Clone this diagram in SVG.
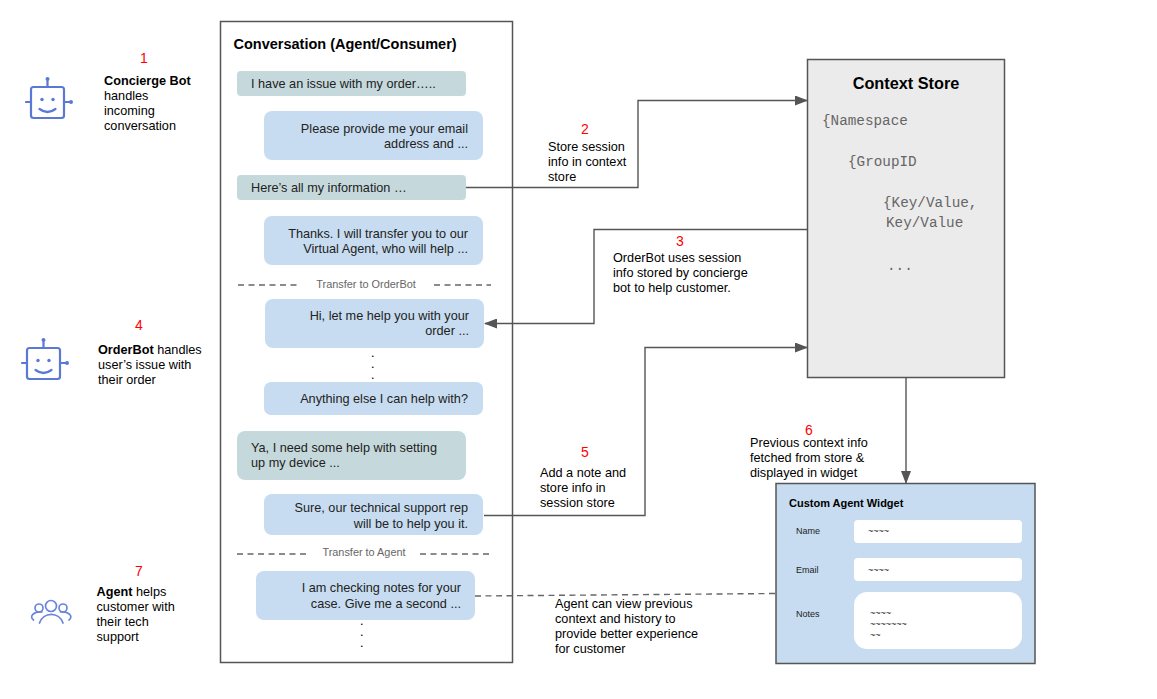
<svg xmlns="http://www.w3.org/2000/svg" width="1157" height="699" viewBox="0 0 1157 699">
<style>
text{font-family:"Liberation Sans",Arial,sans-serif;font-size:12.7px;fill:#000}
.m{font-size:12.7px;fill:#222}
.e{text-anchor:end}
.r{font-size:14px;fill:#f00;text-anchor:middle}
.b{font-weight:bold}
.bx{fill:#fff;stroke:#555;stroke-width:1.5}
.g{fill:#c5d9dc}
.u{fill:#c7dcf0}
.mono{font-family:"Liberation Mono",monospace;font-size:14.3px;fill:#666}
.tr{font-size:10.9px;fill:#666;text-anchor:middle}
.l{font-size:9px;fill:#222}
.t{font-size:9px;fill:#222}
.dot{font-size:9px;font-weight:bold}
.c{fill:none;stroke:#555;stroke-width:1.4}
.d{fill:none;stroke:#666;stroke-width:1.4;stroke-dasharray:6 4.5}
.i{fill:none;stroke:#5a78d6;stroke-width:2.2;stroke-linecap:round}
.f{fill:#5a78d6}
.i2{fill:none;stroke:#6a86da;stroke-width:1.7;stroke-linecap:round}
</style>
<defs>
<marker id="a" markerUnits="userSpaceOnUse" markerWidth="13" markerHeight="10" refX="12" refY="5" orient="auto"><path d="M0 0L13 5L0 10Z" fill="#555"/></marker>
<g id="bot">
<rect x="-16" y="-15" width="33" height="31" rx="2.5" class="i"/>
<path class="i" d="M0.500 -15V-21M-16 0H-21M17 0H23M-7.500 7Q0.500 13 8.500 7"/>
<circle cx="0.500" cy="-23" r="2" class="f"/><circle cx="24" cy="0" r="2" class="f"/>
<circle cx="-5" cy="-2.500" r="1.700" class="f"/><circle cx="6" cy="-2.500" r="1.700" class="f"/>
</g>
</defs>

<g id="conversation">
<rect class="bx" x="220.500" y="21.500" width="292" height="641"/>
<text x="233.500" y="49" class="b" style="font-size:14.5px">Conversation (Agent/Consumer)</text>
</g>
<g id="msg1"><rect class="g" x="237" y="71" width="229" height="25" rx="4"/><text class="m" x="251" y="88">I have an issue with my order…..</text></g>
<g id="msg2"><rect class="u" x="264" y="111" width="219" height="49" rx="8"/><text class="m e" x="468" y="133">Please provide me your email</text><text class="m e" x="468" y="148">address and ...</text></g>
<g id="msg3"><rect class="g" x="237" y="175" width="229" height="25" rx="4"/><text class="m" x="251" y="192">Here’s all my information …</text></g>
<g id="msg4"><rect class="u" x="264" y="216" width="219" height="49" rx="8"/><text class="m e" x="468" y="238">Thanks. I will transfer you to our</text><text class="m e" x="468" y="253">Virtual Agent, who will help ...</text></g>
<g id="transfer1"><path class="d" d="M238 285H298M434 285H491"/><text class="tr" x="366" y="288">Transfer to OrderBot</text></g>
<g id="msg5"><rect class="u" x="265" y="299" width="219" height="49" rx="8"/><text class="m e" x="469" y="320">Hi, let me help you with your</text><text class="m e" x="469" y="335">order ...</text></g>
<g id="dots1"><text class="dot" x="371.500" y="357">.</text><text class="dot" x="371.500" y="368">.</text><text class="dot" x="371.500" y="379">.</text></g>
<g id="msg6"><rect class="u" x="264" y="382" width="219" height="33" rx="7"/><text class="m e" x="468" y="403">Anything else I can help with?</text></g>
<g id="msg7"><rect class="g" x="237" y="431" width="229" height="49" rx="8"/><text class="m" x="251" y="452">Ya, I need some help with setting</text><text class="m" x="251" y="467">up my device ...</text></g>
<g id="msg8"><rect class="u" x="264" y="494" width="219" height="41" rx="8"/><text class="m e" x="468" y="512">Sure, our technical support rep</text><text class="m e" x="468" y="528">will be to help you it.</text></g>
<g id="transfer2"><path class="d" d="M237 554H306M420 554H489"/><text class="tr" x="364" y="556">Transfer to Agent</text></g>
<g id="msg9"><rect class="u" x="256" y="571" width="219" height="49" rx="8"/><text class="m e" x="461" y="592">I am checking notes for your</text><text class="m e" x="461" y="608">case. Give me a second ...</text></g>
<g id="dots2"><text class="dot" x="360.500" y="625">.</text><text class="dot" x="360.500" y="636">.</text><text class="dot" x="360.500" y="647">.</text></g>

<g id="context-store">
<rect x="807.500" y="59.500" width="197" height="318" fill="#ebebeb" stroke="#555" stroke-width="1.5"/>
<text x="906" y="89" class="b" text-anchor="middle" style="font-size:16.300px">Context Store</text>
<text class="mono" x="822" y="125">{Namespace</text>
<text class="mono" x="848" y="166">{GroupID</text>
<text class="mono" x="883" y="207">{Key/Value,</text>
<text class="mono" x="886" y="227">Key/Value</text>
<text class="mono" x="887" y="270">...</text>
</g>

<g id="widget">
<rect x="776" y="483.500" width="259" height="180" fill="#c7dcf0" stroke="#555" stroke-width="1.5"/>
<text x="789" y="507" class="b" style="font-size:11px">Custom Agent Widget</text>
<text class="l" x="796" y="534">Name</text><rect x="854" y="520" width="168" height="23" rx="4" fill="#fff"/><text class="t" x="868" y="534">~~~~</text>
<text class="l" x="796" y="573">Email</text><rect x="854" y="558" width="168" height="23" rx="4" fill="#fff"/><text class="t" x="868" y="573">~~~~</text>
<text class="l" x="796" y="617">Notes</text><rect x="854" y="592" width="168" height="57" rx="13" fill="#fff"/>
<text class="t" x="870" y="616">~~~~</text><text class="t" x="870" y="627">~~~~~~~</text><text class="t" x="870" y="638">~~</text>
</g>

<g id="connectors">
<path class="c" marker-end="url(#a)" d="M466 187.500H638V100.500H807"/>
<path class="c" marker-end="url(#a)" d="M808 229.500H594V323.500H485"/>
<path class="c" marker-end="url(#a)" d="M484 515.500H645V347.500H807"/>
<path class="c" marker-end="url(#a)" d="M906 378V483"/>
<path class="d" d="M475 596L776 593.500"/>
</g>

<g id="concierge-bot">
<use href="#bot" x="47" y="102"/>
<text class="r" x="144" y="63">1</text>
<text x="104" y="85"><tspan class="b">Concierge Bot</tspan></text><text x="104" y="100">handles</text><text x="104" y="115">incoming</text><text x="104" y="130">conversation</text>
</g>
<g id="orderbot">
<use href="#bot" x="43" y="363"/>
<text class="r" x="139" y="330">4</text>
<text x="98" y="354"><tspan class="b">OrderBot</tspan> handles</text><text x="98" y="369">user’s issue with</text><text x="98" y="384">their order</text>
</g>
<g id="agent">
<path class="i2" d="M39.500 623A12.500 13 0 0 1 63 623M42 612a9 5 0 0 0 -8.500 8M60.500 612a9 5 0 0 1 8.500 8"/>
<circle class="i2" cx="51" cy="606" r="5.500"/><circle class="i2" cx="39" cy="608" r="4"/><circle class="i2" cx="63" cy="608" r="4"/>
<text class="r" x="139" y="576">7</text>
<text x="96.500" y="596"><tspan class="b">Agent</tspan> helps</text><text x="96.500" y="611">customer with</text><text x="96.500" y="626">their tech</text><text x="96.500" y="641">support</text>
</g>

<g id="note2"><text class="r" x="585" y="134">2</text><text x="548" y="151">Store session</text><text x="548" y="166">info in context</text><text x="548" y="181">store</text></g>
<g id="note3"><text class="r" x="680" y="246">3</text><text x="613" y="262">OrderBot uses session</text><text x="613" y="277">info stored by concierge</text><text x="613" y="292">bot to help customer.</text></g>
<g id="note5"><text class="r" x="585" y="457">5</text><text x="540" y="477">Add a note and</text><text x="540" y="492">store info in</text><text x="540" y="507">session store</text></g>
<g id="note6"><text class="r" x="809" y="435">6</text><text x="750" y="447">Previous context info</text><text x="750" y="462">fetched from store &amp;</text><text x="750" y="477">displayed in widget</text></g>
<g id="note7"><text x="555" y="608">Agent can view previous</text><text x="555" y="623">context and history to</text><text x="555" y="638">provide better experience</text><text x="555" y="653">for customer</text></g>
</svg>
